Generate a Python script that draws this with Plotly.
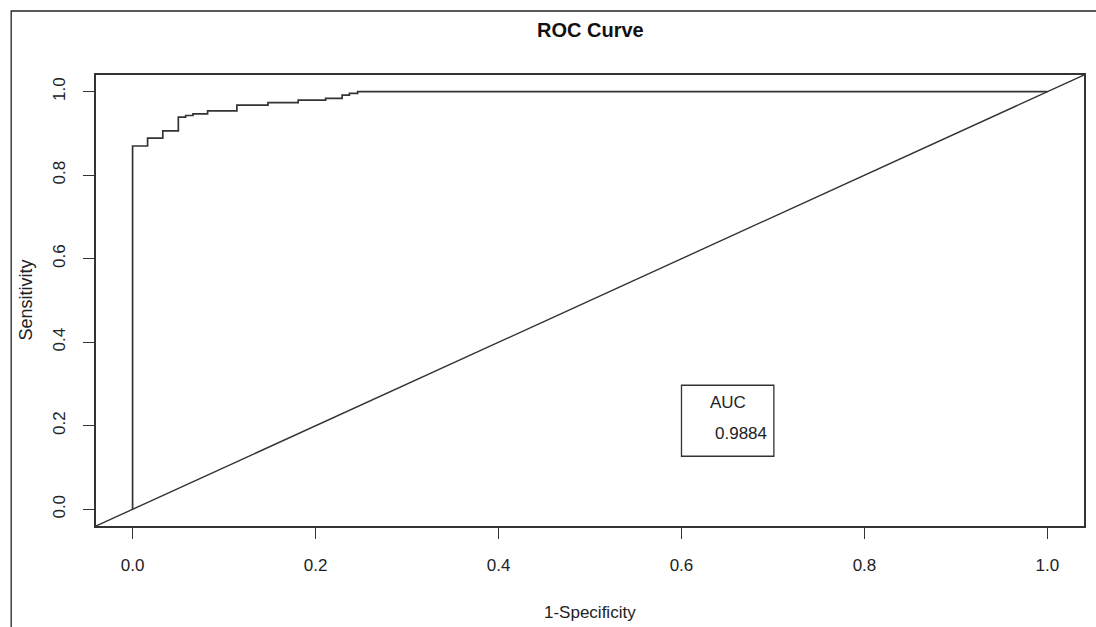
import plotly.graph_objects as go

# ROC curve steps (1-specificity, sensitivity)
fpr = [0.0, 0.0, 0.0164, 0.033, 0.050, 0.058, 0.066, 0.082, 0.114, 0.148, 0.181, 0.211, 0.229, 0.237, 0.246, 1.0]
tpr = [0.0, 0.870, 0.889, 0.906, 0.939, 0.943, 0.947, 0.954, 0.968, 0.974, 0.980, 0.984, 0.992, 0.996, 1.0, 1.0]
auc_value = 0.9884
tick_vals = [0.0, 0.2, 0.4, 0.6, 0.8, 1.0]
tick_text = ["0.0", "0.2", "0.4", "0.6", "0.8", "1.0"]

x_range = [-0.04, 1.04]
y_range = [-0.04, 1.04]

W, H = 1096, 627
ML, MR, MT, MB = 96, 10, 75, 101
FONT = "Liberation Sans, Arial, sans-serif"
LINE = "#333333"

fig = go.Figure()
fig.add_trace(go.Scatter(x=fpr, y=tpr, mode="lines", line=dict(color=LINE, width=1.7, shape="hv"),
                         showlegend=False, hoverinfo="skip"))
# reference line y = x across the full plotting region
fig.add_trace(go.Scatter(x=x_range, y=x_range, mode="lines", line=dict(color=LINE, width=1.4),
                         showlegend=False, hoverinfo="skip"))

axis_common = dict(range=None, showgrid=False, zeroline=False, showline=True, mirror=True,
                   linecolor=LINE, linewidth=1.6, ticks="outside", ticklen=11, tickwidth=1.3,
                   tickcolor=LINE, tickvals=tick_vals, ticktext=tick_text,
                   tickfont=dict(family=FONT, size=17, color="#222222"))

xa = dict(axis_common); xa["range"] = x_range; xa["ticklabelstandoff"] = 12
ya = dict(axis_common); ya["range"] = y_range; ya["tickangle"] = -90; ya["ticklabelstandoff"] = 11

plot_w = W - ML - MR
plot_h = H - MT - MB

fig.update_layout(
    width=W, height=H,
    margin=dict(l=ML, r=MR, t=MT, b=MB, pad=0),
    paper_bgcolor="white", plot_bgcolor="white",
    xaxis=xa, yaxis=ya,
    annotations=[
        dict(text="<b>ROC Curve</b>", xref="paper", yref="paper", x=0.5, y=1, yshift=45,
             showarrow=False, xanchor="center", yanchor="middle",
             font=dict(family=FONT, size=20, color="#111111")),
        dict(text="1-Specificity", xref="paper", yref="paper", x=0.5, y=0, yshift=-86,
             showarrow=False, xanchor="center", yanchor="middle",
             font=dict(family=FONT, size=17, color="#222222")),
        dict(text="Sensitivity", xref="paper", yref="paper", x=0, y=0.5, xshift=-71,
             showarrow=False, xanchor="center", yanchor="middle", textangle=-90,
             font=dict(family=FONT, size=18, color="#222222")),
        dict(text="AUC", xref="x", yref="y", x=0.629, y=0.255, showarrow=False,
             xanchor="left", yanchor="middle", font=dict(family=FONT, size=17, color="#222222")),
        dict(text=f"{auc_value:.4f}", xref="x", yref="y", x=0.634, y=0.182, showarrow=False,
             xanchor="left", yanchor="middle", font=dict(family=FONT, size=17, color="#222222")),
    ],
    shapes=[
        # legend box
        dict(type="rect", xref="x", yref="y", x0=0.600, x1=0.701, y0=0.127, y1=0.297,
             line=dict(color=LINE, width=1.3), fillcolor="rgba(0,0,0,0)"),
        # outer frame of the image
        dict(type="rect", xref="paper", yref="paper",
             x0=(11 - ML) / plot_w, x1=1.5, y0=-0.5, y1=1 + (MT - 11) / plot_h,
             line=dict(color="#222222", width=1.3), fillcolor="rgba(0,0,0,0)", layer="below"),
    ],
)

fig.write_html("out.html", config={"displayModeBar": False},
               post_script="document.body.style.margin='0';document.body.style.overflow='hidden';")
